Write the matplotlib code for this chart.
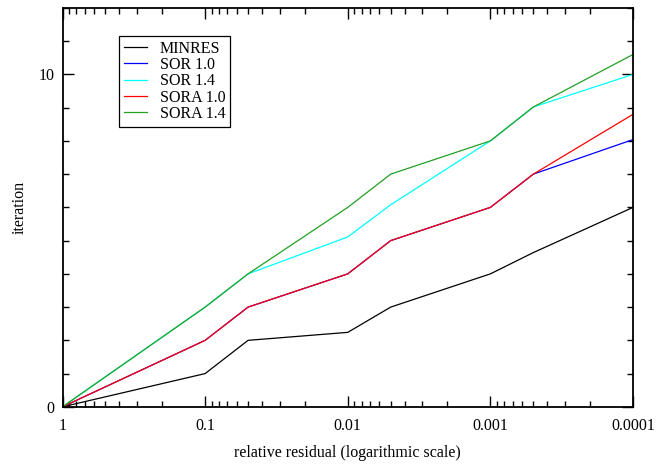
import numpy as np
import matplotlib
matplotlib.use('Agg')
import matplotlib.pyplot as plt
from matplotlib.ticker import MultipleLocator, FixedLocator, FixedFormatter, NullFormatter

# relative residual levels
residual = [1, 0.1, 0.05, 0.01, 0.005, 0.001, 0.0005, 0.0001]

# iterations per method
minres = [0, 1.0, 2.0, 2.24, 3.0, 4.0, 4.64, 6.0]
sor10 = [0, 2, 3, 4, 5, 6, 7, 8.04]
sor14 = [0, 3, 4, 5.11, 6.08, 8, 9.02, 10.0]
sora10 = [0, 2, 3, 4, 5, 6, 7, 8.8]
sora14 = [0, 3, 4, 6, 7, 8, 9.02, 10.6]

xticks = [1, 0.1, 0.01, 0.001, 0.0001]
xticklabels = ['1', '0.1', '0.01', '0.001', '0.0001']

plt.rcParams['font.family'] = ['Liberation Serif', 'DejaVu Serif']
plt.rcParams['font.size'] = 11.5

fig = plt.figure(figsize=(6.56, 4.66), dpi=100)
ax = fig.add_axes([0.0953, 0.127, 0.8697, 0.856])

lw = 0.9
ax.plot(residual, minres, color='black', lw=lw, label='MINRES')
ax.plot(residual, sor10, color='blue', lw=lw, label='SOR 1.0')
ax.plot(residual, sor14, color='cyan', lw=lw, label='SOR 1.4')
ax.plot(residual, sora10, color='red', lw=lw, label='SORA 1.0')
ax.plot(residual, sora14, color='#22a022', lw=lw, label='SORA 1.4')

ax.set_xscale('log')
ax.set_xlim(1, 0.0001)
ax.set_ylim(0, 12)

ax.xaxis.set_major_locator(FixedLocator(xticks))
ax.xaxis.set_major_formatter(FixedFormatter(xticklabels))
ax.xaxis.set_minor_formatter(NullFormatter())
ax.yaxis.set_major_locator(MultipleLocator(10))
ax.yaxis.set_minor_locator(MultipleLocator(1))

ax.tick_params(which='both', direction='in', top=True, right=True, width=1.0)
ax.tick_params(axis='x', which='both', pad=8)
ax.tick_params(axis='y', which='both', pad=6)
ax.tick_params(which='major', length=8)
ax.tick_params(which='minor', length=4.3)
for s in ax.spines.values():
    s.set_linewidth(1.3)

ax.set_xlabel('relative residual (logarithmic scale)', labelpad=8)
ax.set_ylabel('iteration')
ax.yaxis.set_label_coords(-0.061, 0.5)

leg = ax.legend(loc='upper left', bbox_to_anchor=(0.099, 0.93), borderaxespad=0,
                fancybox=False, edgecolor='black', framealpha=1,
                handlelength=1.45, handletextpad=0.8, labelspacing=0.02,
                borderpad=0.3)
leg.get_frame().set_linewidth(0.9)

fig.savefig('out.png', dpi=100)
